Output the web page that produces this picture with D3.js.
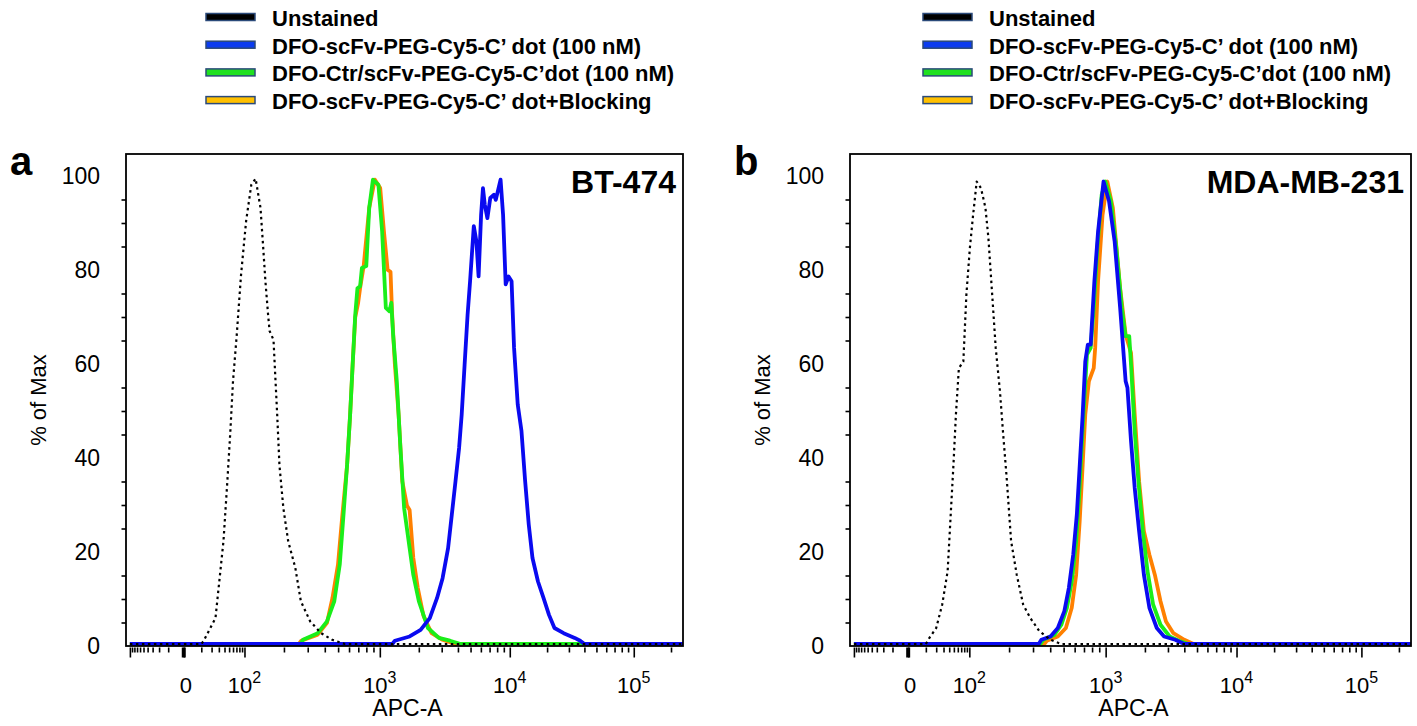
<!DOCTYPE html>
<html>
<head>
<meta charset="utf-8">
<script src="https://cdn.jsdelivr.net/npm/d3@7"></script>
<style>
  body { margin: 0; background: #fff; }
  svg { display: block; }
</style>
</head>
<body>
<script>
// ---- data (APC-A intensity, % of Max) ----
const seriesNames = [
  "Unstained",
  "DFO-scFv-PEG-Cy5-C\u2019 dot (100 nM)",
  "DFO-Ctr/scFv-PEG-Cy5-C\u2019dot (100 nM)",
  "DFO-scFv-PEG-Cy5-C\u2019 dot+Blocking"
];
const legendColors = ["#000000", "#0b3cf0", "#20e020", "#ffc000"];
const lineColors = ["#000000", "#0a0af0", "#1aee1a", "#ff8000"];

const cellLines = ["BT-474", "MDA-MB-231"];

// panel a : BT-474
const aUnstained = [[-100,0],[10,0],[12,0.7],[25,5.5],[38,21.9],[46,34.7],[53,45.3],[60,56],[71,65.7],[86,78.5],[103,90],[113,97.7],[122,99],[133,92.8],[139,85],[145,77.2],[152,70],[156,66.6],[167,64.7],[172,57.3],[178,48.8],[185,38.1],[198,28.9],[215,21.9],[243,16.2],[267,9.1],[313,4.8],[376,2.3],[453,0.9],[560,0],[250000,0]];
const aScFv = [[-100,0],[1250,0],[1308,0.7],[1699,1.6],[2065,3],[2430,5.5],[2765,9.8],[3048,14],[3360,20.4],[3588,27.5],[3830,34.6],[4082,41.7],[4274,48.8],[4500,59.4],[4743,70],[4958,77.2],[5295,88.9],[5544,85.7],[5763,78.2],[6024,91.3],[6227,97],[6429,93.5],[6732,90.6],[7086,94.9],[7565,95.6],[7809,94.5],[8500,98.8],[8885,91.3],[9302,76.5],[9790,78.2],[10340,77.2],[10830,63],[11600,50.9],[12430,45.3],[13310,34.6],[14230,25.4],[15250,18.3],[16890,13.3],[18710,9.8],[20720,6.2],[22940,3.4],[27210,2.3],[33380,1.3],[36970,0.7],[40000,0],[250000,0]];
const aCtr = [[-100,0],[265,0],[277,0.9],[355,2.3],[415,4.8],[469,9.1],[514,16.9],[547,27.5],[581,38.1],[611,48.8],[637,59.4],[665,70],[690,75.7],[721,76.1],[743,80],[799,80.4],[839,92.8],[892,98.8],[977,97.7],[1042,87.8],[1113,71.5],[1187,70.8],[1227,72.6],[1267,65.8],[1353,55.9],[1443,41.7],[1541,28.9],[1699,20.4],[1814,14.7],[2000,9.1],[2350,3.4],[2855,1.3],[3475,0.7],[4200,0],[250000,0]];
const aBlocking = [[-100,0],[258,0],[269,0.7],[355,2.0],[415,4.5],[455,9.8],[499,16.9],[537,27.5],[581,38.1],[611,48.8],[637,59.4],[665,69.5],[698,72.6],[721,75.7],[765,80.4],[839,92.8],[920,98.8],[1007,97],[1076,87.8],[1149,79.6],[1210,79.2],[1243,70.5],[1308,59.4],[1397,48.8],[1492,34.6],[1622,29.4],[1699,28.5],[1814,18.3],[1961,12],[2173,6],[2509,2.3],[3048,0.9],[3800,0],[250000,0]];

// panel b : MDA-MB-231
const bUnstained = [[-100,0],[10,0],[13,1.3],[20,3.4],[28,8.4],[37,15.5],[43,27.5],[49,38.1],[55,48.8],[63,58.7],[77,60.1],[88,74.3],[101,84.3],[107,91.3],[114,98.4],[123,97],[133,92.8],[140,86.4],[149,75],[159,63],[171,53.8],[180,45.3],[192,35.3],[207,21.9],[228,14.7],[254,8.4],[287,5.5],[334,2.7],[402,0.9],[480,0],[250000,0]];
const bScFv = [[-100,0],[330,0],[345,0.9],[402,1.6],[454,3.4],[506,7],[545,11.9],[586,19],[622,27.5],[653,38.1],[685,48.8],[715,60.1],[746,63.7],[782,63.7],[831,77.2],[883,87.8],[966,98.4],[1062,94.2],[1172,85.7],[1292,71.5],[1424,55.9],[1470,54.5],[1566,43.1],[1671,33.2],[1806,24],[1965,14.7],[2164,7.7],[2465,3.4],[2803,1.6],[3406,0.9],[4000,0],[250000,0]];
const bCtr = [[-100,0],[340,0],[356,0.9],[427,1.9],[482,4.1],[528,7.7],[572,13.3],[615,21.9],[645,31.1],[673,41.7],[705,52.3],[736,61.6],[782,63],[822,71.5],[872,84.3],[937,95.6],[995,98.4],[1096,94.2],[1208,84.3],[1331,71.5],[1421,65.5],[1517,65.5],[1566,59.4],[1671,45.3],[1784,34.6],[1928,24],[2093,15.5],[2311,8.4],[2631,4.1],[3092,1.6],[3635,0.7],[4300,0],[250000,0]];
const bBlocking = [[-100,0],[362,0],[378,0.7],[454,1.6],[519,3.4],[572,7.7],[615,14.7],[652,26.1],[685,38.1],[715,48.8],[759,55.9],[822,58.7],[842,63],[883,77.2],[950,91.3],[1030,98.4],[1136,92.8],[1292,75.7],[1424,65.8],[1566,61.9],[1671,48.8],[1806,34.6],[1965,24],[2164,19],[2384,14.7],[2631,9.1],[2898,4.8],[3300,2.3],[4003,0.9],[4700,0],[250000,0]];

// axis ticks
const yTicks = [0, 20, 40, 60, 80, 100];
const xLabelValues = [0, 1e2, 1e3, 1e4, 1e5];
const xLabelExp = ["", "2", "3", "4", "5"];
const xMajorTicks = [-100, 0, 1e2, 1e3, 1e4, 1e5];

// biexponential-like axis: breakpoints and their share of the plot width
const xBreaks = [-100, 0, 1e2, 1e3, 1e4, 1e5, 2.5e5];
const xBreakFrac = [0.007, 0.1037, 0.2127, 0.4557, 0.689, 0.9116, 1];

// ---- layout ----
const W = 1417, H = 726;
const plotTop = 154, plotBottom = 646;
const font = "'Liberation Sans', Arial, Helvetica, sans-serif";

const svg = d3.select("body").append("svg")
  .attr("width", W)
  .attr("height", H)
  .style("font-family", font);

const panels = [
  {letter: "a", left: 126, right: 683, series: [aUnstained, aScFv, aCtr, aBlocking]},
  {letter: "b", left: 850, right: 1411, series: [bUnstained, bScFv, bCtr, bBlocking]}
];

const y = d3.scaleLinear().domain([0, 100 * (plotBottom - plotTop) / 470]).range([plotBottom, plotTop]);

// minor tick values
const xMinor = [];
for (let k = 1; k < 10; k++) { xMinor.push(-10 * k, 10 * k); }
[1e2, 1e3, 1e4].forEach(p => { for (let k = 2; k < 10; k++) xMinor.push(k * p); });
xMinor.push(2e5);
const yMinor = d3.range(5, 101, 5).filter(v => v % 20 !== 0);

panels.forEach((p, i) => {
  const w = p.right - p.left;
  const x = d3.scaleSymlog().constant(10)
    .domain(xBreaks)
    .range(xBreakFrac.map(f => p.left + f * w));

  const g = svg.append("g");

  // curves: blocking, ctr, scFv, then unstained dotted on top
  const line = d3.line().x(d => x(d[0])).y(d => y(d[1]));
  const curves = g.append("g").attr("transform", "translate(0,-2)");
  [3, 2, 1, 0].forEach(s => {
    curves.append("path")
      .datum(p.series[s])
      .attr("d", line)
      .attr("fill", "none")
      .attr("stroke", lineColors[s])
      .attr("stroke-width", s === 0 ? 2.2 : 3.8)
      .attr("stroke-linejoin", "round")
      .attr("stroke-dasharray", s === 0 ? "2.5,3.5" : null);
  });

  // frame
  g.append("rect")
    .attr("x", p.left).attr("y", plotTop)
    .attr("width", w).attr("height", plotBottom - plotTop)
    .attr("fill", "none").attr("stroke", "#000").attr("stroke-width", 1.8);

  // y axis
  const yAxis = g.append("g").attr("transform", `translate(${p.left},0)`);
  yAxis.call(d3.axisLeft(y).tickValues(yTicks).tickSize(13).tickFormat(""));
  yAxis.call(d3.axisLeft(y).tickValues(yMinor).tickSize(4.5).tickFormat(""));
  yAxis.selectAll(".domain").remove();
  yAxis.selectAll("line").attr("stroke", "#000").attr("stroke-width", 1.6);

  g.selectAll(".ylab").data(yTicks).enter().append("text")
    .attr("x", p.left - 26)
    .attr("y", d => y(d) + 8)
    .attr("text-anchor", "end")
    .attr("font-size", "23px")
    .text(d => d);

  // x axis
  const xAxis = g.append("g").attr("transform", `translate(0,${plotBottom + 1.5})`);
  xAxis.append("g").call(d3.axisBottom(x).tickValues(xMajorTicks).tickSize(10).tickFormat(""));
  xAxis.append("g").call(d3.axisBottom(x).tickValues(xMinor).tickSize(5).tickFormat(""));
  xAxis.selectAll(".domain").remove();
  xAxis.selectAll("line").attr("stroke", "#000").attr("stroke-width", 1.6);
  xAxis.append("line")
    .attr("x1", x(0)).attr("x2", x(0)).attr("y1", 0).attr("y2", 10)
    .attr("stroke", "#000").attr("stroke-width", 4);

  const xl = g.selectAll(".xlab").data(xLabelValues).enter().append("text")
    .attr("x", d => x(d) + (d === 0 ? 2 : 0))
    .attr("y", 693)
    .attr("text-anchor", "middle")
    .attr("font-size", "22px");
  xl.append("tspan").text(d => d === 0 ? "0" : "10");
  xl.append("tspan")
    .attr("dy", -10)
    .attr("font-size", "16px")
    .text((d, j) => xLabelExp[j]);

  g.append("text")
    .attr("x", (p.left + p.right) / 2 + 3)
    .attr("y", 716)
    .attr("text-anchor", "middle")
    .attr("font-size", "23px")
    .text("APC-A");

  g.append("text")
    .attr("transform", `translate(${p.left - 80},${(plotTop + plotBottom) / 2}) rotate(-90)`)
    .attr("text-anchor", "middle")
    .attr("font-size", "22px")
    .text("% of Max");

  // panel letter and cell line
  g.append("text")
    .attr("x", p.left - 116)
    .attr("y", 175)
    .attr("font-size", "40px")
    .attr("font-weight", "bold")
    .text(p.letter);

  g.append("text")
    .attr("x", p.right - 7)
    .attr("y", 193)
    .attr("text-anchor", "end")
    .attr("font-size", "32px")
    .attr("font-weight", "bold")
    .text(cellLines[i]);

  // legend
  const lg = svg.append("g").attr("transform", `translate(${206 + i * 717},0)`);
  seriesNames.forEach((name, s) => {
    const cy = 17 + s * 27.7;
    lg.append("rect")
      .attr("x", 0).attr("y", cy - 3.5)
      .attr("width", 49).attr("height", 7)
      .attr("fill", legendColors[s])
      .attr("stroke", "#2b4a7a").attr("stroke-width", 1.5);
    lg.append("text")
      .attr("x", 66).attr("y", cy + 9)
      .attr("font-size", "22px")
      .attr("font-weight", "bold")
      .text(name);
  });
});
</script>
</body>
</html>
